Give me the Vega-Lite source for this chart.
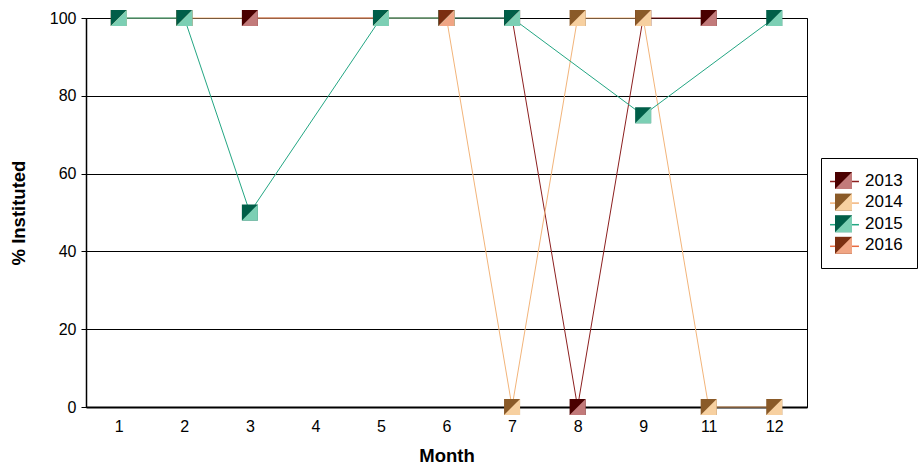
{
  "$schema": "https://vega.github.io/schema/vega-lite/v6.json",
  "width": 721,
  "height": 389,
  "autosize": {"type": "none"},
  "padding": {"left": 86, "top": 18, "right": 115, "bottom": 57},
  "background": "white",
  "config": {
    "font": "Liberation Sans",
    "view": {"stroke": "#000", "strokeWidth": 1},
    "axis": {"labelFont": "Liberation Sans", "titleFont": "Liberation Sans", "labelColor": "#000", "titleColor": "#000"},
    "legend": {"labelFont": "Liberation Sans", "strokeWidth": 1}
  },
  "data": {
    "values": [
      {"Year": "2013", "Month": 3, "Value": 100},
      {"Year": "2013", "Month": 7, "Value": 100},
      {"Year": "2013", "Month": 8, "Value": 0},
      {"Year": "2013", "Month": 9, "Value": 100},
      {"Year": "2013", "Month": 11, "Value": 100},
      {"Year": "2014", "Month": 1, "Value": 100},
      {"Year": "2014", "Month": 2, "Value": 100},
      {"Year": "2014", "Month": 5, "Value": 100},
      {"Year": "2014", "Month": 6, "Value": 100},
      {"Year": "2014", "Month": 7, "Value": 0},
      {"Year": "2014", "Month": 8, "Value": 100},
      {"Year": "2014", "Month": 9, "Value": 100},
      {"Year": "2014", "Month": 11, "Value": 0},
      {"Year": "2014", "Month": 12, "Value": 0},
      {"Year": "2015", "Month": 1, "Value": 100},
      {"Year": "2015", "Month": 2, "Value": 100},
      {"Year": "2015", "Month": 3, "Value": 50},
      {"Year": "2015", "Month": 5, "Value": 100},
      {"Year": "2015", "Month": 6, "Value": 100},
      {"Year": "2015", "Month": 7, "Value": 100},
      {"Year": "2015", "Month": 9, "Value": 75},
      {"Year": "2015", "Month": 12, "Value": 100},
      {"Year": "2016", "Month": 6, "Value": 100}
    ]
  },
  "encoding": {
    "x": {
      "field": "Month", "type": "ordinal",
      "scale": {"type": "point", "padding": 0.5, "domain": [1, 2, 3, 4, 5, 6, 7, 8, 9, 11, 12]},
      "axis": {"title": "Month", "labelAngle": 0, "labelFontSize": 16, "labelPadding": 11, "ticks": false, "grid": false,
               "domainColor": "#000", "domainWidth": 2, "titleFontSize": 18.5, "titleFontWeight": "bold", "titlePadding": 12}
    },
    "y": {
      "field": "Value", "type": "quantitative",
      "scale": {"domain": [0, 100], "nice": false},
      "axis": {"title": "% Instituted", "values": [0, 20, 40, 60, 80, 100], "labelFontSize": 16, "tickSize": 5, "tickColor": "#000",
               "labelPadding": 5, "domainColor": "#000", "domainWidth": 1.5, "grid": true, "gridColor": "#000", "gridOpacity": 1,
               "gridWidth": 1, "titleFontSize": 18.5, "titleFontWeight": "bold", "titlePadding": 21}
    }
  },
  "layer": [
    {
      "mark": {"type": "line", "strokeWidth": 1},
      "encoding": {
        "stroke": {
          "field": "Year", "type": "nominal",
          "scale": {"domain": ["2013", "2014", "2015", "2016"], "range": ["#8c1f1f", "#f2b47a", "#23a683", "#e86a40"]},
          "legend": {"title": null, "orient": "none", "legendX": 735, "legendY": 140, "padding": 14, "rowPadding": 3.6,
                     "symbolType": "M-1.7,0L1.7,0", "symbolSize": 289, "symbolStrokeWidth": 1.5, "labelExpr": "''",
                     "labelFontSize": 17, "labelOffset": 13}
        }
      }
    },
    {
      "mark": {"type": "point", "filled": true, "opacity": 1, "size": 256, "strokeWidth": 0, "shape": "M-1,-1L1,-1L1,1L-1,1Z"},
      "encoding": {
        "fill": {
          "field": "Year", "type": "nominal",
          "scale": {"domain": ["2013", "2014", "2015", "2016"], "range": ["#4a0000", "#8a5a28", "#005e48", "#7a2e10"]},
          "legend": {"title": null, "orient": "none", "legendX": 735, "legendY": 140, "padding": 14, "rowPadding": 3.6,
                     "symbolType": "M-1,-1L1,-1L1,1L-1,1Z", "symbolSize": 289, "symbolStrokeWidth": 0, "labelExpr": "''",
                     "labelFontSize": 17, "labelOffset": 13}
        }
      }
    },
    {
      "mark": {"type": "point", "filled": true, "opacity": 1, "size": 256, "strokeWidth": 0, "shape": "M1,-1L1,1L-1,1Z"},
      "encoding": {
        "fill": {
          "field": "Year", "type": "nominal",
          "scale": {"domain": ["2013", "2014", "2015", "2016"], "range": ["#c27a7a", "#f7d0a0", "#7ccfb4", "#f0a584"]},
          "legend": {"title": null, "orient": "none", "legendX": 735, "legendY": 140, "padding": 14, "rowPadding": 3.6,
                     "symbolType": "M1,-1L1,1L-1,1Z", "symbolSize": 289, "symbolStrokeWidth": 0,
                     "labelFontSize": 17, "labelOffset": 13, "labelColor": "#000", "labelExpr": "datum.label + '\u00a0\u00a0'",
                     "strokeColor": "#000"}
        }
      }
    }
  ],
  "resolve": {
    "scale": {"fill": "independent", "stroke": "independent"},
    "legend": {"fill": "independent", "stroke": "independent"}
  }
}
